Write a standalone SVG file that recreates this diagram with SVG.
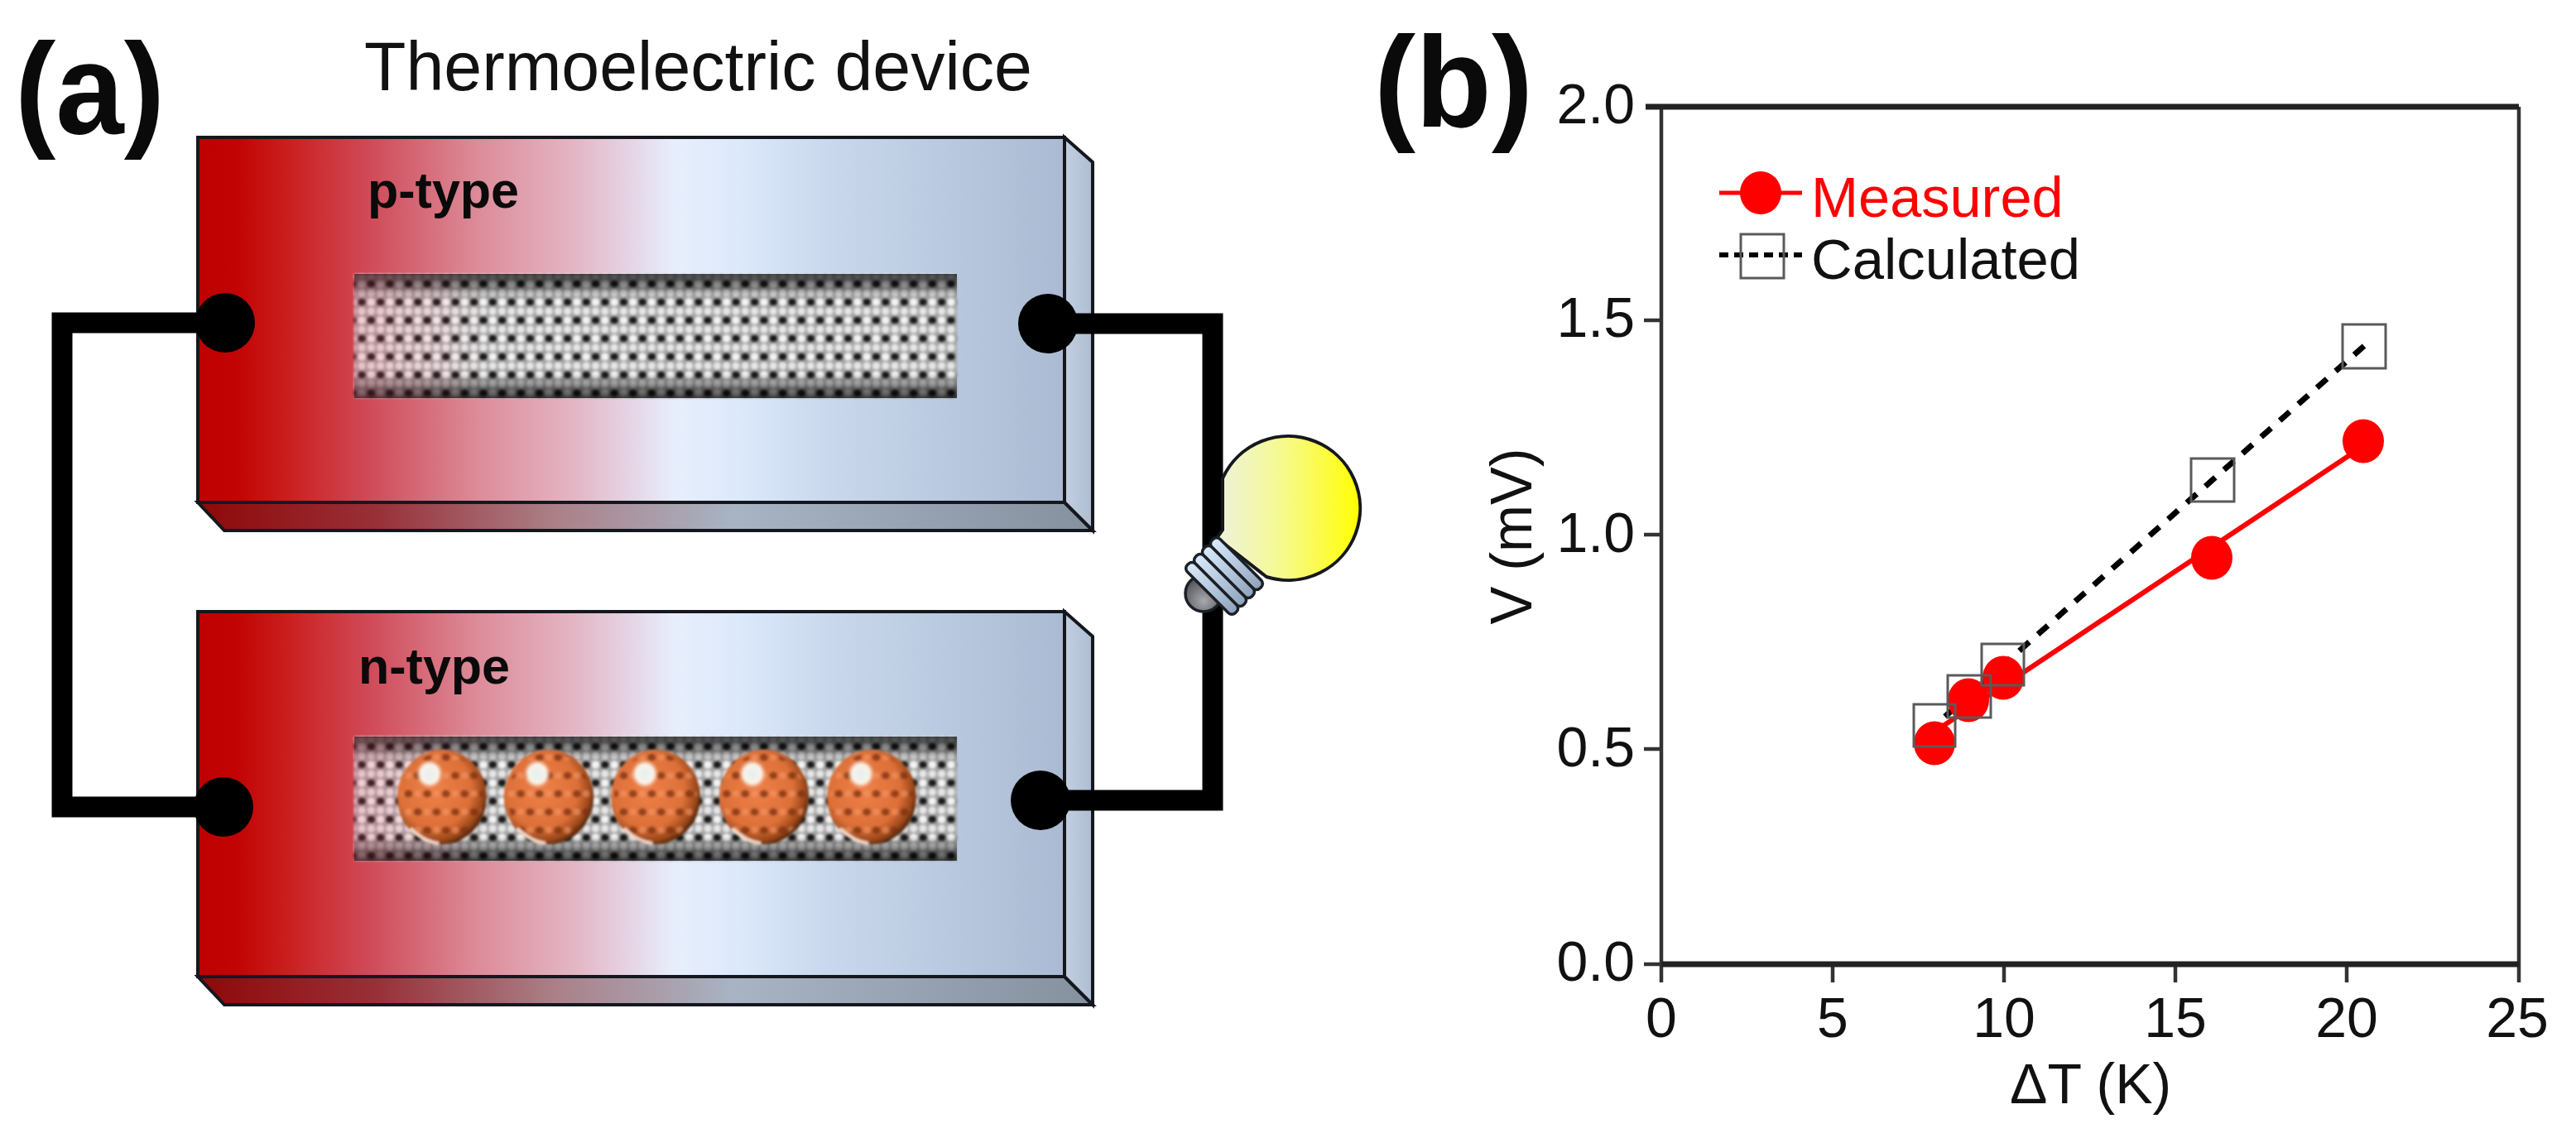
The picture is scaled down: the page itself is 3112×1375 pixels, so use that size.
<svg xmlns="http://www.w3.org/2000/svg" width="3112" height="1375" viewBox="0 0 3112 1375">
<style>
text{font-family:"Liberation Sans",Arial,sans-serif;fill:#111}
.tick{font-size:68px}
.bold{font-weight:bold;fill:#0a0a0a}
.edge{stroke:#14181e;stroke-width:4;stroke-linejoin:miter}
.wire{fill:none;stroke:#000;stroke-width:25;stroke-linejoin:miter}
.axis{fill:none;stroke:#333;stroke-width:4.500}
.axisb{fill:none;stroke:#222;stroke-width:7}
.sq{fill:none;stroke:#5a5a5a;stroke-width:3}
.rib{fill:url(#ribG);stroke:#1b2026;stroke-width:3.500}
</style>
<defs>
<filter id="soft" x="-5%" y="-5%" width="110%" height="110%"><feGaussianBlur stdDeviation="1.600"/></filter>
<linearGradient id="front" x1="0" x2="1" y1="0" y2="0">
<stop offset="0" stop-color="#bf0000"/><stop offset=".046" stop-color="#c20404"/><stop offset=".107" stop-color="#cb2020"/><stop offset=".198" stop-color="#d04a58"/><stop offset=".32" stop-color="#dc8a98"/><stop offset=".44" stop-color="#e4b8c6"/><stop offset=".5" stop-color="#e5d5e5"/><stop offset=".55" stop-color="#e8eefc"/><stop offset=".625" stop-color="#dce9fb"/><stop offset=".727" stop-color="#c9d8ec"/><stop offset="1" stop-color="#a9bad2"/>
</linearGradient>
<linearGradient id="bottom" x1="0" x2="1" y1="0" y2="0">
<stop offset="0" stop-color="#8e0808"/><stop offset=".2" stop-color="#983038"/><stop offset=".4" stop-color="#ab8088"/><stop offset=".6" stop-color="#a8b4c4"/><stop offset="1" stop-color="#85919f"/>
</linearGradient>
<linearGradient id="side" x1="0" x2="1" y1="0" y2="0"><stop offset="0" stop-color="#c2cfe0"/><stop offset="1" stop-color="#aebdd2"/></linearGradient>
<linearGradient id="bulbG" x1="0" x2="1" y1="0" y2="0"><stop offset="0" stop-color="#eef2dc"/><stop offset=".4" stop-color="#f4f99a"/><stop offset=".7" stop-color="#fbfb50"/><stop offset="1" stop-color="#ffff00"/></linearGradient>
<linearGradient id="ribG" x1="0" x2="1" y1="0" y2="0"><stop offset="0" stop-color="#dbeafa"/><stop offset=".5" stop-color="#b5c8de"/><stop offset="1" stop-color="#8fa2ba"/></linearGradient>
<radialGradient id="capG" cx=".5" cy=".7" r=".6"><stop offset="0" stop-color="#a8a8ae"/><stop offset="1" stop-color="#55585e"/></radialGradient>
<pattern id="lat" width="22.600" height="44" patternUnits="userSpaceOnUse" x="432" y="360">
<rect width="22.600" height="44" fill="#a6a6a6"/>
<circle cx="5" cy="16" r="4.500" fill="#e6e6e6"/><circle cx="16.300" cy="16" r="4.500" fill="#e6e6e6"/><circle cx="5" cy="38" r="4.500" fill="#e6e6e6"/><circle cx="16.300" cy="38" r="4.500" fill="#e6e6e6"/>
<ellipse cx="5" cy="5" rx="5.500" ry="5" fill="#1e1e1e"/><ellipse cx="16.300" cy="27" rx="5.500" ry="5" fill="#1e1e1e"/>
<circle cx="16.300" cy="5" r="4.500" fill="#f4f4f4"/><circle cx="5" cy="27" r="4.500" fill="#f4f4f4"/>
</pattern>
<pattern id="latBall" width="22.600" height="44" patternUnits="userSpaceOnUse" x="432" y="360">
<ellipse cx="5" cy="5" rx="5" ry="4.500" fill="#7a3010" fill-opacity=".75"/><ellipse cx="16.300" cy="27" rx="5" ry="4.500" fill="#7a3010" fill-opacity=".75"/>
<circle cx="16.300" cy="5" r="4" fill="#f49868" fill-opacity=".6"/><circle cx="5" cy="27" r="4" fill="#f49868" fill-opacity=".6"/>
</pattern>
<linearGradient id="tubeShade" x1="0" x2="0" y1="0" y2="1"><stop offset="0" stop-color="#000" stop-opacity=".7"/><stop offset=".1" stop-color="#000" stop-opacity=".4"/><stop offset=".2" stop-color="#000" stop-opacity="0"/><stop offset=".8" stop-color="#000" stop-opacity="0"/><stop offset=".9" stop-color="#000" stop-opacity=".4"/><stop offset="1" stop-color="#000" stop-opacity=".7"/></linearGradient>
<linearGradient id="pinkFade" x1="0" x2="1" y1="0" y2="0"><stop offset="0" stop-color="#e8405a" stop-opacity=".22"/><stop offset="1" stop-color="#e8405a" stop-opacity="0"/></linearGradient>
<radialGradient id="ballG" cx=".42" cy=".42" r=".62"><stop offset="0" stop-color="#ee8048"/><stop offset=".65" stop-color="#dd7038"/><stop offset=".88" stop-color="#9a4618"/><stop offset="1" stop-color="#3c1a08"/></radialGradient>
<radialGradient id="hl"><stop offset="0" stop-color="#e6eef0"/><stop offset=".65" stop-color="#f8f4e8"/><stop offset="1" stop-color="#f5a070" stop-opacity="0"/></radialGradient>
<g id="ball">
<ellipse rx="54" ry="57" fill="url(#ballG)"/>
<path d="M-38,38 Q-22,54 -4,56" fill="none" stroke="#f6d8c4" stroke-width="4"/>
</g>
<g id="block">
<rect x="239" y="166" width="1047" height="441" fill="url(#front)" class="edge"/>
<path d="M239,607H1286L1320,641H271Z" fill="url(#bottom)" class="edge"/>
<path d="M1286,166L1320,196V641L1286,607Z" fill="url(#side)" class="edge"/>
</g>
<g id="tube">
<g filter="url(#soft)"><rect x="428" y="331" width="728" height="150" fill="url(#lat)"/></g>
<rect x="428" y="331" width="728" height="150" fill="url(#tubeShade)"/>
<rect x="428" y="331" width="160" height="150" fill="url(#pinkFade)"/>
</g>
</defs>
<rect width="3112" height="1375" fill="#fff"/>

<g id="label-a"><text class="bold" x="18" y="161" font-size="155" textLength="181" lengthAdjust="spacingAndGlyphs">(a)</text></g>
<g id="title"><text x="440" y="109" font-size="82.500">Thermoelectric device</text></g>

<g id="p-type-block">
<use href="#block"/>
<text class="bold" x="444" y="251" font-size="61">p-type</text>
<use href="#tube"/>
</g>

<g id="n-type-block">
<use href="#block" y="573"/>
<text class="bold" x="433" y="826" font-size="61">n-type</text>
<use href="#tube" y="559"/>
<g filter="url(#soft)">
<use href="#ball" x="534" y="963"/><use href="#ball" x="663" y="963"/><use href="#ball" x="792" y="963"/><use href="#ball" x="923" y="963"/><use href="#ball" x="1053" y="963"/>
<g fill="url(#latBall)"><ellipse cx="534" cy="963" rx="50" ry="53"/><ellipse cx="663" cy="963" rx="50" ry="53"/><ellipse cx="792" cy="963" rx="50" ry="53"/><ellipse cx="923" cy="963" rx="50" ry="53"/><ellipse cx="1053" cy="963" rx="50" ry="53"/></g>
<g fill="url(#hl)"><ellipse cx="519" cy="935" rx="17" ry="18"/><ellipse cx="649" cy="935" rx="17" ry="18"/><ellipse cx="779" cy="935" rx="17" ry="18"/><ellipse cx="909" cy="935" rx="17" ry="18"/><ellipse cx="1040" cy="935" rx="17" ry="18"/></g>
</g>
</g>

<g id="connectors">
<path class="wire" d="M272,390H75V975H270"/>
<path class="wire" d="M1266,391H1465V967H1257"/>
<circle cx="272" cy="390" r="36"/><circle cx="270" cy="975" r="36"/><circle cx="1266" cy="391" r="36"/><circle cx="1257" cy="967" r="36"/>
</g>

<g id="bulb">
<path d="M1477,578A87,87 0 1 1 1530,697L1470,650L1477,640Z" fill="url(#bulbG)" stroke="#15181c" stroke-width="4"/>
<circle cx="1454" cy="717" r="22" fill="url(#capG)" stroke="#1b2026" stroke-width="3.500"/>
<g transform="translate(1479,696) rotate(45)">
<rect class="rib" x="-41" y="-28" width="82" height="14" rx="6"/>
<rect class="rib" x="-41" y="-14" width="82" height="14" rx="6"/>
<rect class="rib" x="-41" y="0" width="82" height="14" rx="6"/>
<rect class="rib" x="-41" y="14" width="82" height="14" rx="6"/>
</g>
</g>

<g id="label-b"><text class="bold" x="1660" y="153" font-size="155" textLength="192" lengthAdjust="spacingAndGlyphs">(b)</text></g>

<g id="chart">
<path class="axis" d="M2007,129V1187M3043,129V1187M2214,1165V1187M2421,1165V1187M2628,1165V1187M2835,1165V1187"/>
<path class="axisb" d="M1988,129H3043M2007,1165H3043"/>
<path class="axis" d="M1986,387H2007M1986,646H2007M1986,905H2007M1986,1165H2007"/>
<g class="tick" text-anchor="end">
<text x="1975" y="149">2.0</text><text x="1975" y="407">1.5</text><text x="1975" y="667">1.0</text><text x="1975" y="926">0.5</text><text x="1975" y="1185">0.0</text>
</g>
<g class="tick" text-anchor="middle">
<text x="2007" y="1253">0</text><text x="2214" y="1253">5</text><text x="2421" y="1253">10</text><text x="2628" y="1253">15</text><text x="2835" y="1253">20</text><text x="3041" y="1253">25</text>
</g>
<text x="2428" y="1333" font-size="68">ΔT (K)</text>
<text x="0" y="0" transform="translate(1850,648) rotate(-90)" text-anchor="middle" font-size="70" textLength="213" lengthAdjust="spacingAndGlyphs">V (mV)</text>
</g>

<g id="series-calculated-line"><path d="M2856,418L2337,877" fill="none" stroke="#000" stroke-width="7" stroke-dasharray="16 14"/></g>
<g id="series-measured">
<path d="M2337,884L2855,539" fill="none" stroke="#f00" stroke-width="6"/>
<g fill="#f00"><ellipse cx="2337" cy="898" rx="25" ry="26.500"/><ellipse cx="2378" cy="846" rx="25" ry="26.500"/><ellipse cx="2420" cy="819" rx="25" ry="26.500"/><ellipse cx="2672" cy="674" rx="25" ry="26.500"/><ellipse cx="2855" cy="533" rx="25" ry="26.500"/></g>
</g>
<g id="series-calculated-markers">
<rect class="sq" x="2312" y="851" width="50" height="51"/><rect class="sq" x="2353" y="816" width="52" height="51"/><rect class="sq" x="2394" y="778" width="51" height="50"/><rect class="sq" x="2647" y="554" width="52" height="52"/><rect class="sq" x="2830" y="392" width="52" height="53"/>
</g>

<g id="legend">
<path d="M2077,233H2177" stroke="#f00" stroke-width="5"/>
<ellipse cx="2127" cy="233" rx="25" ry="26" fill="#f00"/>
<text x="2188" y="262" font-size="68.500" style="fill:#f00">Measured</text>
<path d="M2077,308H2177" stroke="#000" stroke-width="6" stroke-dasharray="11 7"/>
<rect class="sq" x="2103" y="283" width="52" height="53"/>
<text x="2188" y="337" font-size="68.800">Calculated</text>
</g>
</svg>
